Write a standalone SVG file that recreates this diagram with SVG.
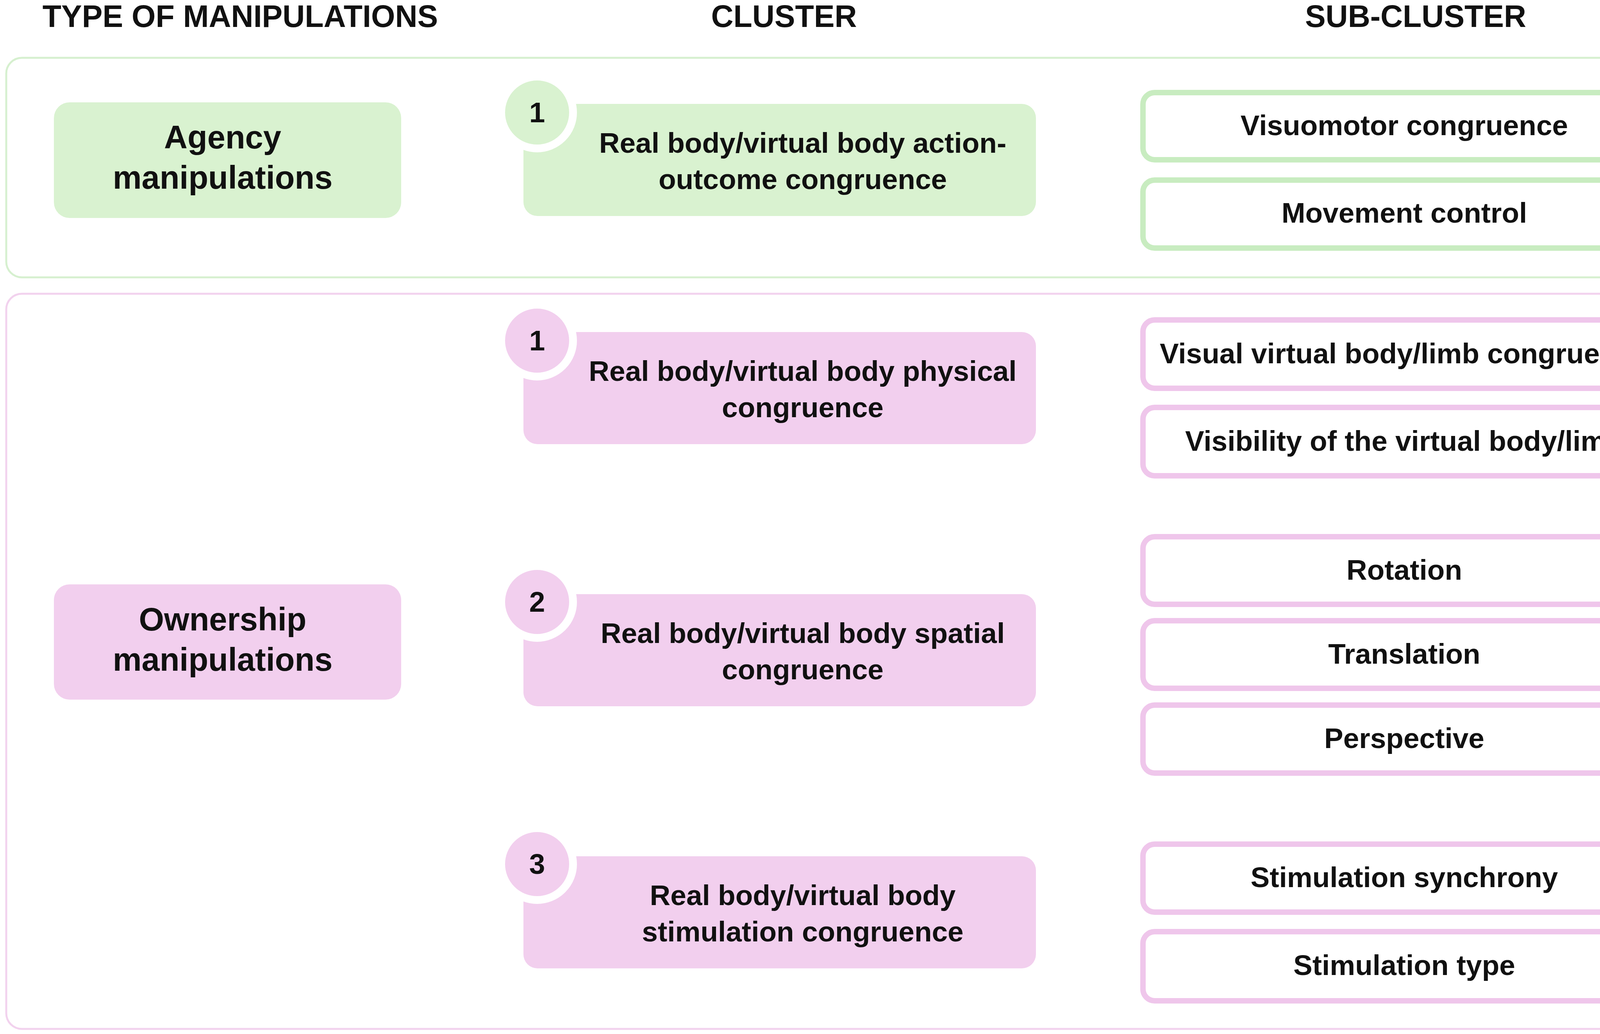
<svg xmlns="http://www.w3.org/2000/svg" width="4328" height="2647" viewBox="0 0 4328 2647">
<style>
text{font-family:"Liberation Sans",Arial,sans-serif;font-weight:bold;fill:#111;text-anchor:middle}
.h{font-size:79px}
.t{font-size:73px}
.big{font-size:83px}
.g{fill:#d9f2d0}
.p{fill:#f2cfee}
.sg{fill:#fff;stroke:#c8ecc0;stroke-width:14}
.sp{fill:#fff;stroke:#efc6eb;stroke-width:14}
.ring{stroke:#fff;stroke-width:20}
</style>
<rect width="4328" height="2647" fill="#fff"/>
<g id="headers">
<text class="h" x="615" y="69">TYPE OF MANIPULATIONS</text>
<text class="h" x="2007" y="69">CLUSTER</text>
<text class="h" x="3624" y="69">SUB-CLUSTER</text>
</g>
<g id="agency-panel"><rect x="16" y="148" width="4296" height="562" rx="40" fill="none" stroke="#d6f0cf" stroke-width="5"/></g>
<g id="ownership-panel"><rect x="16" y="752" width="4296" height="1882" rx="40" fill="none" stroke="#f2d2ee" stroke-width="5"/></g>
<g id="agency"><rect class="g" x="138" y="262" width="889" height="296" rx="40"/><text class="big" x="570" y="380">Agency</text><text class="big" x="570" y="483">manipulations</text></g>
<g id="ownership"><rect class="p" x="138" y="1496" width="889" height="295" rx="40"/><text class="big" x="570" y="1614">Ownership</text><text class="big" x="570" y="1717">manipulations</text></g>
<g id="cluster-a1"><rect class="g" x="1340" y="266" width="1312" height="287" rx="36"/><circle class="g ring" cx="1375" cy="288" r="92"/><text class="t" x="1375" y="313">1</text><text class="t" x="2055" y="391">Real body/virtual body action-</text><text class="t" x="2055" y="484">outcome congruence</text></g>
<g id="cluster-o1"><rect class="p" x="1340" y="850" width="1312" height="287" rx="36"/><circle class="p ring" cx="1375" cy="872" r="92"/><text class="t" x="1375" y="897">1</text><text class="t" x="2055" y="975">Real body/virtual body physical</text><text class="t" x="2055" y="1068">congruence</text></g>
<g id="cluster-o2"><rect class="p" x="1340" y="1521" width="1312" height="287" rx="36"/><circle class="p ring" cx="1375" cy="1541" r="92"/><text class="t" x="1375" y="1566">2</text><text class="t" x="2055" y="1646">Real body/virtual body spatial</text><text class="t" x="2055" y="1739">congruence</text></g>
<g id="cluster-o3"><rect class="p" x="1340" y="2192" width="1312" height="287" rx="36"/><circle class="p ring" cx="1375" cy="2212" r="92"/><text class="t" x="1375" y="2237">3</text><text class="t" x="2055" y="2317">Real body/virtual body</text><text class="t" x="2055" y="2410">stimulation congruence</text></g>
<g id="s1"><rect class="sg" x="2926" y="237" width="1328" height="172" rx="30"/><text class="t" x="3595" y="346">Visuomotor congruence</text></g>
<g id="s2"><rect class="sg" x="2926" y="461" width="1328" height="174" rx="30"/><text class="t" x="3595" y="570">Movement control</text></g>
<g id="s3"><rect class="sp" x="2926" y="819" width="1328" height="175" rx="30"/><text class="t" x="3595" y="930">Visual virtual body/limb congruence</text></g>
<g id="s4"><rect class="sp" x="2926" y="1043" width="1328" height="175" rx="30"/><text class="t" x="3595" y="1154">Visibility of the virtual body/limb</text></g>
<g id="s5"><rect class="sp" x="2926" y="1374" width="1328" height="173" rx="30"/><text class="t" x="3595" y="1484">Rotation</text></g>
<g id="s6"><rect class="sp" x="2926" y="1589" width="1328" height="173" rx="30"/><text class="t" x="3595" y="1699">Translation</text></g>
<g id="s7"><rect class="sp" x="2926" y="1805" width="1328" height="174" rx="30"/><text class="t" x="3595" y="1915">Perspective</text></g>
<g id="s8"><rect class="sp" x="2926" y="2161" width="1328" height="174" rx="30"/><text class="t" x="3595" y="2271">Stimulation synchrony</text></g>
<g id="s9"><rect class="sp" x="2926" y="2385" width="1328" height="177" rx="30"/><text class="t" x="3595" y="2496">Stimulation type</text></g>
<g id="connectors"/>
</svg>
